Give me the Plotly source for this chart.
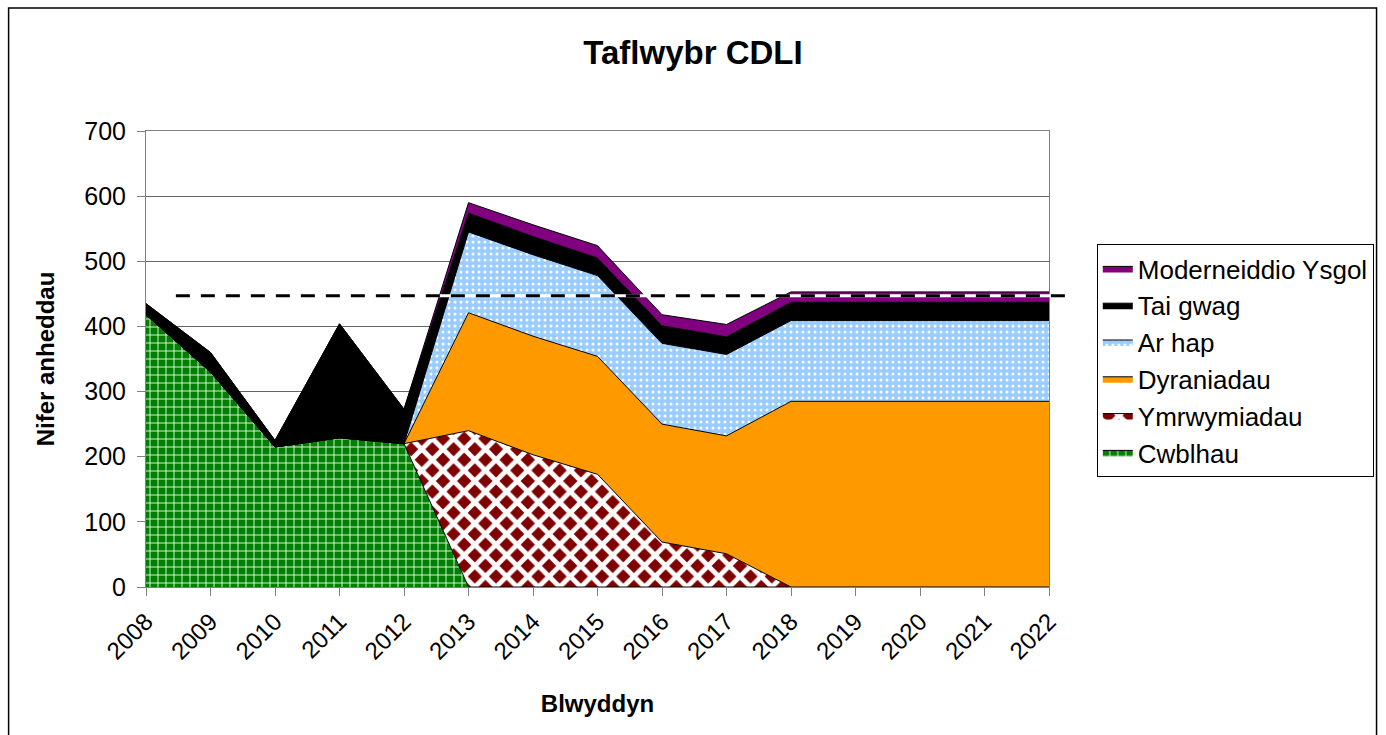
import plotly.graph_objects as go

years = [2008, 2009, 2010, 2011, 2012, 2013, 2014, 2015, 2016, 2017, 2018, 2019, 2020, 2021, 2022]
cwblhau = [418, 330, 215, 229, 220, 0, 0, 0, 0, 0, 0, 0, 0, 0, 0]
ymrwymiadau = [0, 0, 0, 0, 0, 240, 203, 173, 69, 51, 0, 0, 0, 0, 0]
dyraniadau = [0, 0, 0, 0, 0, 181, 182, 181, 181, 181, 285, 285, 285, 285, 285]
ar_hap = [0, 0, 0, 0, 0, 124, 125, 124, 124, 125, 124, 124, 124, 124, 124]
tai_gwag = [17, 30, 10, 175, 53, 29, 28, 27, 27, 27, 28, 28, 28, 28, 28]
moderneiddio = [0, 0, 0, 0, 0, 16, 18, 19, 17, 19, 16, 16, 16, 16, 16]
target = 447

FONT = "Liberation Sans, Arial, sans-serif"
Y_MAX = 700

series = [
    ("Cwblhau", cwblhau, "#008000", dict(shape="+", fgcolor="#e8f4e8", bgcolor="#008000", size=8, solidity=0.22)),
    ("Ymrwymiadau", ymrwymiadau, "#800000", dict(shape="x", fgcolor="#ffffff", bgcolor="#800000", size=15, solidity=0.55)),
    ("Dyraniadau", dyraniadau, "#FF9900", None),
    ("Ar hap", ar_hap, "#99CCFF", dict(shape=".", fgcolor="#ffffff", bgcolor="#99CCFF", size=6, solidity=0.2)),
    ("Tai gwag", tai_gwag, "#000000", None),
    ("Moderneiddio Ysgol", moderneiddio, "#800080", None),
]

fig = go.Figure()
for name, vals, color, pat in series:
    kw = dict(
        x=years, y=vals, name=name, mode="lines", stackgroup="one",
        line=dict(color="black", width=1), fillcolor=color,
        hoverinfo="x+y+name",
    )
    if pat:
        kw["fillpattern"] = dict(fillmode="replace", **pat)
    fig.add_trace(go.Scatter(**kw))

W, H = 1386, 735
L, R, T, B = 146, 333, 131, 148
PW = W - L - R
PH = H - T - B

ty = target / Y_MAX
x0p = (176 - L) / PW
x1p = (1075 - L) / PW
shapes = [
    dict(type="line", xref="paper", yref="paper", x0=x0p, x1=x1p, y0=ty, y1=ty,
         line=dict(color="white", width=3), layer="above"),
    dict(type="line", xref="paper", yref="paper", x0=x0p, x1=x1p, y0=ty, y1=ty,
         line=dict(color="black", width=3, dash="14px,11px"), layer="above"),
    dict(type="rect", xref="paper", yref="paper",
         x0=(8 - L) / PW, x1=(1382 - L) / PW, y0=-(B + 20) / PH, y1=(PH + T - 8) / PH,
         line=dict(color="black", width=1.5), fillcolor="rgba(0,0,0,0)", layer="below"),
]

fig.update_layout(
    width=W, height=H,
    margin=dict(l=L, r=R, t=T, b=B),
    paper_bgcolor="white", plot_bgcolor="white",
    font=dict(family=FONT, color="black", size=24),
    title=dict(text="<b>Taflwybr CDLI</b>", x=0.5, xref="container", xanchor="center",
               y=1 - 52 / H, yanchor="middle", font=dict(size=33, family=FONT)),
    showlegend=True,
    legend=dict(x=(1101 - L) / PW, y=(587 - 244) / PH, xanchor="left", yanchor="top",
                traceorder="reversed",
                bgcolor="white", bordercolor="black", borderwidth=1,
                font=dict(size=26, family=FONT)),
    shapes=shapes,
)

fig.update_xaxes(
    range=[2008, 2022], tickvals=years, ticktext=[str(y) for y in years],
    tickangle=-45, ticks="outside", ticklen=8, tickcolor="#808080",
    showgrid=False, showline=True, linecolor="#808080", linewidth=1, mirror=True,
    tickfont=dict(size=24, family=FONT), ticklabelstandoff=2,
    title=dict(text="<b>Blwyddyn</b>", font=dict(size=24, family=FONT), standoff=31),
    zeroline=False,
)
fig.update_yaxes(
    range=[0, Y_MAX], dtick=100, ticks="outside", ticklen=8, tickcolor="#808080",
    showgrid=True, gridcolor="#666666", gridwidth=1,
    showline=True, linecolor="#808080", linewidth=1, mirror=True,
    tickfont=dict(size=25, family=FONT), ticklabelstandoff=6,
    title=dict(text="<b>Nifer anheddau</b>", font=dict(size=24, family=FONT), standoff=22),
    zeroline=False,
)

fig.write_html(
    "out.html",
    config={"displayModeBar": False},
    post_script="document.body.style.margin='0';document.body.style.overflow='hidden';"
                "document.documentElement.style.overflow='hidden';",
)
